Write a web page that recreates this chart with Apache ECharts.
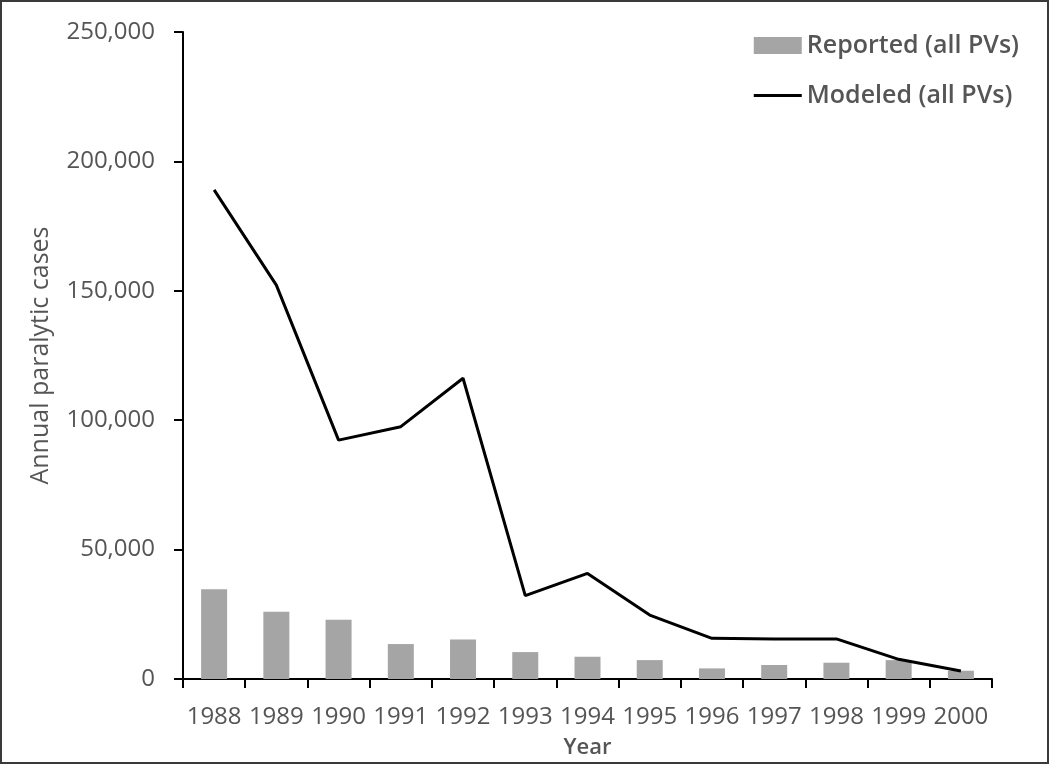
<!DOCTYPE html>
<html>
<head>
<meta charset="utf-8">
<script src="https://cdn.jsdelivr.net/npm/echarts@6/dist/echarts.min.js"></script>
<style>
  html, body { margin: 0; padding: 0; background: #fff; }
  #chart { width: 1050px; height: 765px; }
</style>
</head>
<body>
<div id="chart"></div>
<script>
const years = ["1988", "1989", "1990", "1991", "1992", "1993", "1994", "1995", "1996", "1997", "1998", "1999", "2000"];
const reported = [34700, 26000, 22900, 13500, 15300, 10400, 8600, 7300, 4100, 5400, 6300, 7300, 3200];
const modeled = [189000, 152200, 92300, 97500, 116200, 32200, 40800, 24700, 15700, 15500, 15500, 7600, 3100];
const yTicks = { min: 0, max: 250000, interval: 50000 };

const FONT = "Open Sans";
const GREY_TEXT = "#555555";

const myChart = echarts.init(document.getElementById("chart"));

const option = {
  animation: false,
  textStyle: { fontFamily: FONT },
  graphic: [
    {
      type: "rect",
      shape: { x: 1, y: 1, width: 1047, height: 762 },
      style: { fill: null, stroke: "#3a3a3a", lineWidth: 2 },
      silent: true,
    },
  ],
  grid: { left: 183, right: 58, top: 32, bottom: 86, containLabel: false, outerBoundsMode: "none" },
  legend: {
    orient: "vertical",
    right: 26,
    top: 28,
    itemWidth: 48,
    itemHeight: 17,
    itemGap: 25,
    textStyle: { fontSize: 25, fontWeight: 600, color: GREY_TEXT, fontFamily: FONT },
    data: [
      { name: "Reported (all PVs)", icon: "rect" },
      { name: "Modeled (all PVs)", icon: "path://M0,0 L48,0 L48,3 L0,3 Z" },
    ],
  },
  xAxis: {
    type: "category",
    data: years,
    boundaryGap: true,
    name: "Year",
    nameLocation: "middle",
    nameGap: 58,
    nameTextStyle: { fontSize: 22, fontWeight: 600, color: GREY_TEXT, fontFamily: FONT },
    axisLine: { lineStyle: { color: "#000", width: 2 } },
    axisTick: { show: true, length: 9, lineStyle: { color: "#000", width: 2 } },
    axisLabel: { fontSize: 24, fontWeight: 500, color: GREY_TEXT, margin: 26, interval: 0, fontFamily: FONT },
    splitLine: { show: false },
  },
  yAxis: {
    type: "value",
    min: yTicks.min,
    max: yTicks.max,
    interval: yTicks.interval,
    name: "Annual paralytic cases",
    nameLocation: "middle",
    nameGap: 130,
    nameTextStyle: { fontSize: 25, color: GREY_TEXT, fontFamily: FONT },
    axisLine: { show: true, lineStyle: { color: "#000", width: 2 } },
    axisTick: { show: true, length: 9, lineStyle: { color: "#000", width: 2 } },
    axisLabel: {
      fontSize: 24,
      fontWeight: 500,
      color: GREY_TEXT,
      margin: 28,
      fontFamily: FONT,
      formatter: function (value) {
        return value === 0 ? "0" : value.toLocaleString("en-US");
      },
    },
    splitLine: { show: false },
  },
  series: [
    {
      name: "Reported (all PVs)",
      type: "bar",
      data: reported,
      barWidth: 26,
      itemStyle: { color: "#a5a5a5" },
      z: 2,
    },
    {
      name: "Modeled (all PVs)",
      type: "line",
      data: modeled,
      showSymbol: false,
      symbol: "none",
      lineStyle: { color: "#000", width: 3 },
      itemStyle: { color: "#000" },
      z: 3,
    },
  ],
};

myChart.setOption(option);

window.addEventListener("resize", () => myChart.resize());
</script>
</body>
</html>
